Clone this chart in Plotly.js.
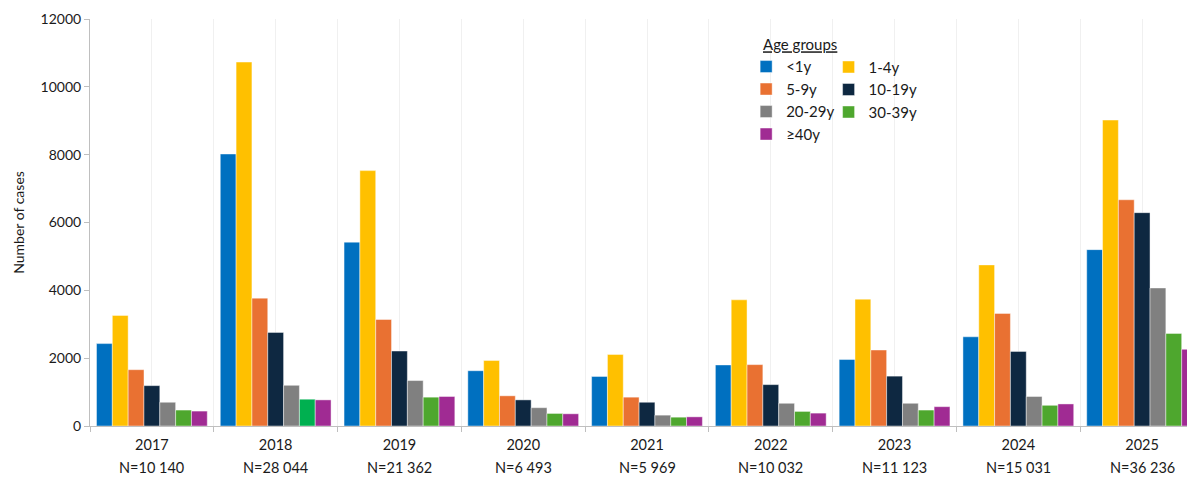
<!DOCTYPE html>
<html>
<head>
<meta charset="utf-8">
<script src="https://cdn.plot.ly/plotly-3.0.1.min.js"></script>
<style>
html, body { margin: 0; padding: 0; overflow: hidden; background: #fff; }
#chart { width: 1205px; height: 477px; }
</style>
</head>
<body>
<div id="chart"></div>
<script>
// ---- data ----
const years = ["2017", "2018", "2019", "2020", "2021", "2022", "2023", "2024", "2025"];
const totals = ["N=10 140", "N=28 044", "N=21 362", "N=6 493", "N=5 969", "N=10 032", "N=11 123", "N=15 031", "N=36 236"];
const ageLt1  = [2430, 8020, 5420, 1630, 1460, 1800, 1960, 2630, 5200];
const age1_4  = [3260, 10730, 7530, 1930, 2110, 3720, 3740, 4750, 9020];
const age5_9  = [1660, 3770, 3140, 890, 850, 1810, 2240, 3320, 6670];
const age10_19 = [1190, 2760, 2210, 770, 700, 1220, 1470, 2200, 6290];
const age20_29 = [700, 1200, 1340, 540, 320, 670, 670, 870, 4070];
const age30_39 = [470, 790, 850, 370, 260, 430, 470, 610, 2730];
const age40p  = [440, 770, 870, 360, 270, 380, 570, 650, 2260];

// ---- styles ----
const FONT = "Lato, 'Open Sans', sans-serif";
const TXT = "#1a1a1a";
const AXC = "#bfbfbf";
const GRID = "#f0f0f0";
const greenCols = years.map(y => y === "2018" ? "#00B050" : "#4EA72E");
const idx = years.map((_, i) => i);

const series = [
  {name: "<1y",    y: ageLt1,   color: "#0070C0", legend: "legend"},
  {name: "1-4y",   y: age1_4,   color: "#FFC000", legend: "legend2"},
  {name: "5-9y",   y: age5_9,   color: "#E97132", legend: "legend"},
  {name: "10-19y", y: age10_19, color: "#0E2841", legend: "legend2"},
  {name: "20-29y", y: age20_29, color: "#808080", legend: "legend"},
  {name: "30-39y", y: age30_39, color: greenCols, legend: "legend2"},
  {name: "≥40y",   y: age40p,   color: "#A02B93", legend: "legend"}
];

const traces = series.map(s => ({
  type: "bar",
  x: idx,
  y: s.y,
  name: s.name,
  legend: s.legend,
  marker: {color: s.color, line: {color: "rgba(255,255,255,0.55)", width: 0.8}},
  hoverinfo: "y+name"
}));

const annotations = totals.map((t, i) => ({
  x: i, xref: "x", y: 0, yref: "paper",
  yanchor: "top", yshift: -31,
  text: t, showarrow: false,
  font: {family: FONT, size: 14.5, color: TXT}
}));

const layout = {
  width: 1205,
  height: 477,
  margin: {l: 90, r: 1, t: 19, b: 51},
  paper_bgcolor: "#fff",
  plot_bgcolor: "#fff",
  font: {family: FONT, color: TXT, size: 14},
  barmode: "group",
  bargap: 0.105,
  bargroupgap: 0,
  xaxis: {
    type: "linear",
    range: [-0.5, 8.5],
    tickmode: "array",
    tickvals: idx,
    ticktext: years,
    ticks: "",
    ticklabelstandoff: 6,
    showline: true,
    linecolor: AXC,
    linewidth: 1,
    zeroline: false,
    showgrid: true,
    gridcolor: GRID,
    minor: {
      tickmode: "linear", tick0: -0.5, dtick: 1,
      ticks: "outside", ticklen: 5, tickcolor: AXC,
      showgrid: true, gridcolor: GRID
    },
    tickfont: {family: FONT, size: 14.5, color: TXT},
    fixedrange: true
  },
  yaxis: {
    range: [0, 12000],
    dtick: 2000,
    tickformat: "d",
    ticks: "outside",
    ticklen: 5,
    tickcolor: AXC,
    showline: true,
    linecolor: AXC,
    showgrid: false,
    zeroline: false,
    tickfont: {family: FONT, size: 14, color: TXT},
    title: {text: "Number of cases", font: {family: FONT, size: 14, color: TXT}, standoff: 12},
    fixedrange: true
  },
  annotations: annotations,
  legend: {
    x: 0.589, y: 0.971, xanchor: "left", yanchor: "top",
    orientation: "v",
    bgcolor: "rgba(0,0,0,0)",
    font: {family: FONT, size: 15, color: TXT},
    title: {text: "&nbsp;&nbsp;&nbsp;&nbsp;<u>Age groups</u>", font: {family: FONT, size: 15, color: TXT}},
    tracegroupgap: 0
  },
  legend2: {
    x: 0.663, y: 0.922, xanchor: "left", yanchor: "top",
    orientation: "v",
    bgcolor: "rgba(0,0,0,0)",
    font: {family: FONT, size: 15, color: TXT},
    tracegroupgap: 0
  },
  showlegend: true
};

Plotly.newPlot("chart", traces, layout, {displayModeBar: false, staticPlot: true});
</script>
</body>
</html>
